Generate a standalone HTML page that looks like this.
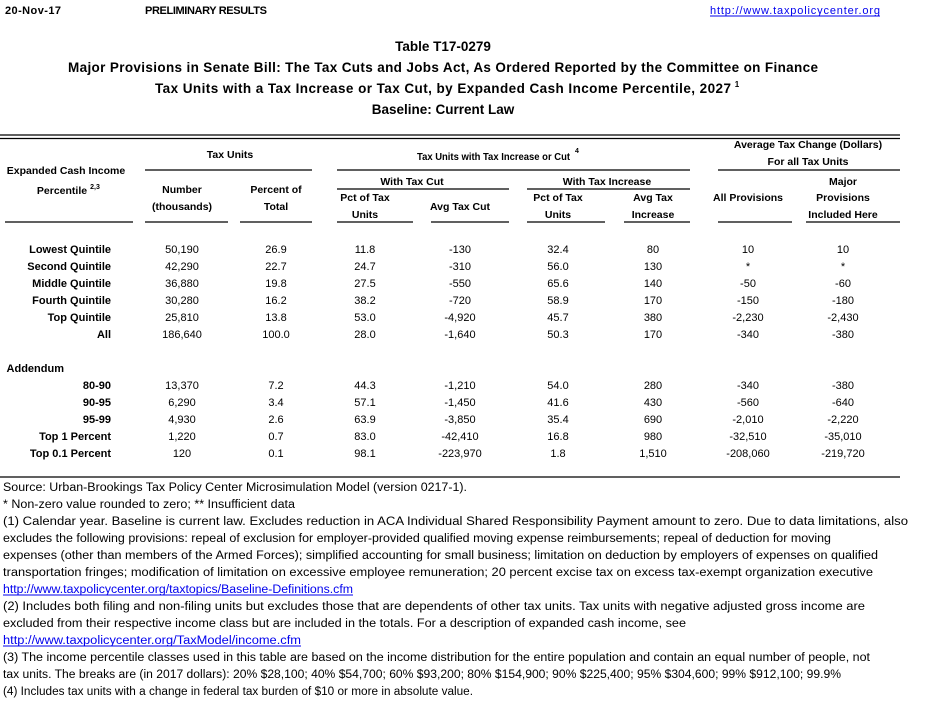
<!DOCTYPE html>
<html><head><meta charset="utf-8"><style>
html,body{margin:0;padding:0;background:#fff;}
svg{display:block;font-family:"Liberation Sans",sans-serif;}
.b{font-weight:bold;}
</style></head><body>
<svg width="940" height="716" viewBox="0 0 940 716" xmlns="http://www.w3.org/2000/svg">
<g font-size="11" fill="#000">
<text x="5" y="14" class="b" textLength="56">20-Nov-17</text>
<text x="145" y="14" class="b" textLength="122">PRELIMINARY RESULTS</text>
<text x="710" y="14" fill="#0000ee" textLength="170">http://www.taxpolicycenter.org</text>
<line x1="710" y1="16" x2="880" y2="16" stroke="#0000ee" stroke-width="1"/>
</g>
<g font-size="13.5" font-weight="bold" text-anchor="middle">
<text x="443" y="51">Table T17-0279</text>
<text x="443" y="72" textLength="750">Major Provisions in Senate Bill: The Tax Cuts and Jobs Act, As Ordered Reported by the Committee on Finance</text>
<text x="443" y="93" textLength="576">Tax Units with a Tax Increase or Tax Cut, by Expanded Cash Income Percentile, 2027</text>
<text x="737" y="87" font-size="8">1</text>
<text x="443" y="114">Baseline: Current Law</text>
</g>
<g stroke="#000" stroke-width="1.2">
<line x1="0" y1="135" x2="900" y2="135"/>
<line x1="0" y1="138.5" x2="900" y2="138.5"/>
<line x1="145" y1="170" x2="312" y2="170"/>
<line x1="337" y1="170" x2="690" y2="170"/>
<line x1="718" y1="170" x2="900" y2="170"/>
<line x1="337" y1="189" x2="509" y2="189"/>
<line x1="527" y1="189" x2="690" y2="189"/>
<line x1="5" y1="222" x2="133" y2="222"/>
<line x1="145" y1="222" x2="228" y2="222"/>
<line x1="240" y1="222" x2="312" y2="222"/>
<line x1="337" y1="222" x2="413" y2="222"/>
<line x1="431" y1="222" x2="509" y2="222"/>
<line x1="527" y1="222" x2="605" y2="222"/>
<line x1="624" y1="222" x2="690" y2="222"/>
<line x1="718" y1="222" x2="792" y2="222"/>
<line x1="806" y1="222" x2="900" y2="222"/>
<line x1="0" y1="477" x2="900" y2="477"/>
</g>
<g font-size="10.5" font-weight="bold" text-anchor="middle">
<text x="66" y="174">Expanded Cash Income</text>
<text x="62" y="194">Percentile</text><text x="95" y="189" font-size="7">2,3</text>
<text x="230" y="158">Tax Units</text>
<text x="417" y="160" text-anchor="start" textLength="153" lengthAdjust="spacingAndGlyphs">Tax Units with Tax Increase or Cut</text><text x="577" y="153" font-size="7">4</text>
<text x="808" y="148">Average Tax Change (Dollars)</text>
<text x="808" y="165">For all Tax Units</text>
<text x="412" y="185">With Tax Cut</text>
<text x="607" y="185">With Tax Increase</text>
<text x="182" y="193">Number</text>
<text x="182" y="210">(thousands)</text>
<text x="276" y="193">Percent of</text>
<text x="276" y="210">Total</text>
<text x="365" y="201">Pct of Tax</text>
<text x="365" y="218">Units</text>
<text x="460" y="210">Avg Tax Cut</text>
<text x="558" y="201">Pct of Tax</text>
<text x="558" y="218">Units</text>
<text x="653" y="201">Avg Tax</text>
<text x="653" y="218">Increase</text>
<text x="748" y="201">All Provisions</text>
<text x="843" y="185">Major</text>
<text x="843" y="201">Provisions</text>
<text x="843" y="218">Included Here</text>
</g>
<g font-size="11" font-weight="bold" text-anchor="end">
<text x="111" y="253">Lowest Quintile</text>
<text x="111" y="270">Second Quintile</text>
<text x="111" y="287">Middle Quintile</text>
<text x="111" y="304">Fourth Quintile</text>
<text x="111" y="321">Top Quintile</text>
<text x="111" y="338">All</text>
<text x="64" y="372">Addendum</text>
<text x="111" y="389">80-90</text>
<text x="111" y="406">90-95</text>
<text x="111" y="423">95-99</text>
<text x="111" y="440">Top 1 Percent</text>
<text x="111" y="457">Top 0.1 Percent</text>
</g>
<g font-size="11" text-anchor="middle">
<g transform="translate(0,253)">
<text x="182">50,190</text><text x="276">26.9</text><text x="365">11.8</text><text x="460">-130</text><text x="558">32.4</text><text x="653">80</text><text x="748">10</text><text x="843">10</text></g>
<g transform="translate(0,270)">
<text x="182">42,290</text><text x="276">22.7</text><text x="365">24.7</text><text x="460">-310</text><text x="558">56.0</text><text x="653">130</text><text x="748">*</text><text x="843">*</text></g>
<g transform="translate(0,287)">
<text x="182">36,880</text><text x="276">19.8</text><text x="365">27.5</text><text x="460">-550</text><text x="558">65.6</text><text x="653">140</text><text x="748">-50</text><text x="843">-60</text></g>
<g transform="translate(0,304)">
<text x="182">30,280</text><text x="276">16.2</text><text x="365">38.2</text><text x="460">-720</text><text x="558">58.9</text><text x="653">170</text><text x="748">-150</text><text x="843">-180</text></g>
<g transform="translate(0,321)">
<text x="182">25,810</text><text x="276">13.8</text><text x="365">53.0</text><text x="460">-4,920</text><text x="558">45.7</text><text x="653">380</text><text x="748">-2,230</text><text x="843">-2,430</text></g>
<g transform="translate(0,338)">
<text x="182">186,640</text><text x="276">100.0</text><text x="365">28.0</text><text x="460">-1,640</text><text x="558">50.3</text><text x="653">170</text><text x="748">-340</text><text x="843">-380</text></g>
<g transform="translate(0,389)">
<text x="182">13,370</text><text x="276">7.2</text><text x="365">44.3</text><text x="460">-1,210</text><text x="558">54.0</text><text x="653">280</text><text x="748">-340</text><text x="843">-380</text></g>
<g transform="translate(0,406)">
<text x="182">6,290</text><text x="276">3.4</text><text x="365">57.1</text><text x="460">-1,450</text><text x="558">41.6</text><text x="653">430</text><text x="748">-560</text><text x="843">-640</text></g>
<g transform="translate(0,423)">
<text x="182">4,930</text><text x="276">2.6</text><text x="365">63.9</text><text x="460">-3,850</text><text x="558">35.4</text><text x="653">690</text><text x="748">-2,010</text><text x="843">-2,220</text></g>
<g transform="translate(0,440)">
<text x="182">1,220</text><text x="276">0.7</text><text x="365">83.0</text><text x="460">-42,410</text><text x="558">16.8</text><text x="653">980</text><text x="748">-32,510</text><text x="843">-35,010</text></g>
<g transform="translate(0,457)">
<text x="182">120</text><text x="276">0.1</text><text x="365">98.1</text><text x="460">-223,970</text><text x="558">1.8</text><text x="653">1,510</text><text x="748">-208,060</text><text x="843">-219,720</text></g>
</g>
<g font-size="11.5" fill="#000">
<text x="3" y="491" textLength="464" lengthAdjust="spacingAndGlyphs">Source: Urban-Brookings Tax Policy Center Microsimulation Model (version 0217-1).</text>
<text x="3" y="508" textLength="292" lengthAdjust="spacingAndGlyphs">* Non-zero value rounded to zero; ** Insufficient data</text>
<text x="3" y="525" textLength="905" lengthAdjust="spacingAndGlyphs">(1) Calendar year. Baseline is current law. Excludes reduction in ACA Individual Shared Responsibility Payment amount to zero. Due to data limitations, also</text>
<text x="3" y="542" textLength="828" lengthAdjust="spacingAndGlyphs">excludes the following provisions: repeal of exclusion for employer-provided qualified moving expense reimbursements; repeal of deduction for moving</text>
<text x="3" y="559" textLength="875" lengthAdjust="spacingAndGlyphs">expenses (other than members of the Armed Forces); simplified accounting for small business; limitation on deduction by employers of expenses on qualified</text>
<text x="3" y="576" textLength="870" lengthAdjust="spacingAndGlyphs">transportation fringes; modification of limitation on excessive employee remuneration; 20 percent excise tax on excess tax-exempt organization executive</text>
<text x="3" y="593" textLength="350" lengthAdjust="spacingAndGlyphs" fill="#0000ee">http://www.taxpolicycenter.org/taxtopics/Baseline-Definitions.cfm</text>
<line x1="3" y1="595" x2="353" y2="595" stroke="#0000ee"/>
<text x="3" y="610" textLength="862" lengthAdjust="spacingAndGlyphs">(2) Includes both filing and non-filing units but excludes those that are dependents of other tax units. Tax units with negative adjusted gross income are</text>
<text x="3" y="627" textLength="683" lengthAdjust="spacingAndGlyphs">excluded from their respective income class but are included in the totals. For a description of expanded cash income, see</text>
<text x="3" y="644" textLength="298" lengthAdjust="spacingAndGlyphs" fill="#0000ee">http://www.taxpolicycenter.org/TaxModel/income.cfm</text>
<line x1="3" y1="646" x2="301" y2="646" stroke="#0000ee"/>
<text x="3" y="661" textLength="867" lengthAdjust="spacingAndGlyphs">(3) The income percentile classes used in this table are based on the income distribution for the entire population and contain an equal number of people, not</text>
<text x="3" y="678" textLength="838" lengthAdjust="spacingAndGlyphs">tax units. The breaks are (in 2017 dollars): 20% $28,100; 40% $54,700; 60% $93,200; 80% $154,900; 90% $225,400; 95% $304,600; 99% $912,100; 99.9%</text>
<text x="3" y="695" textLength="470" lengthAdjust="spacingAndGlyphs">(4) Includes tax units with a change in federal tax burden of $10 or more in absolute value.</text>
</g>
</svg>
</body></html>
